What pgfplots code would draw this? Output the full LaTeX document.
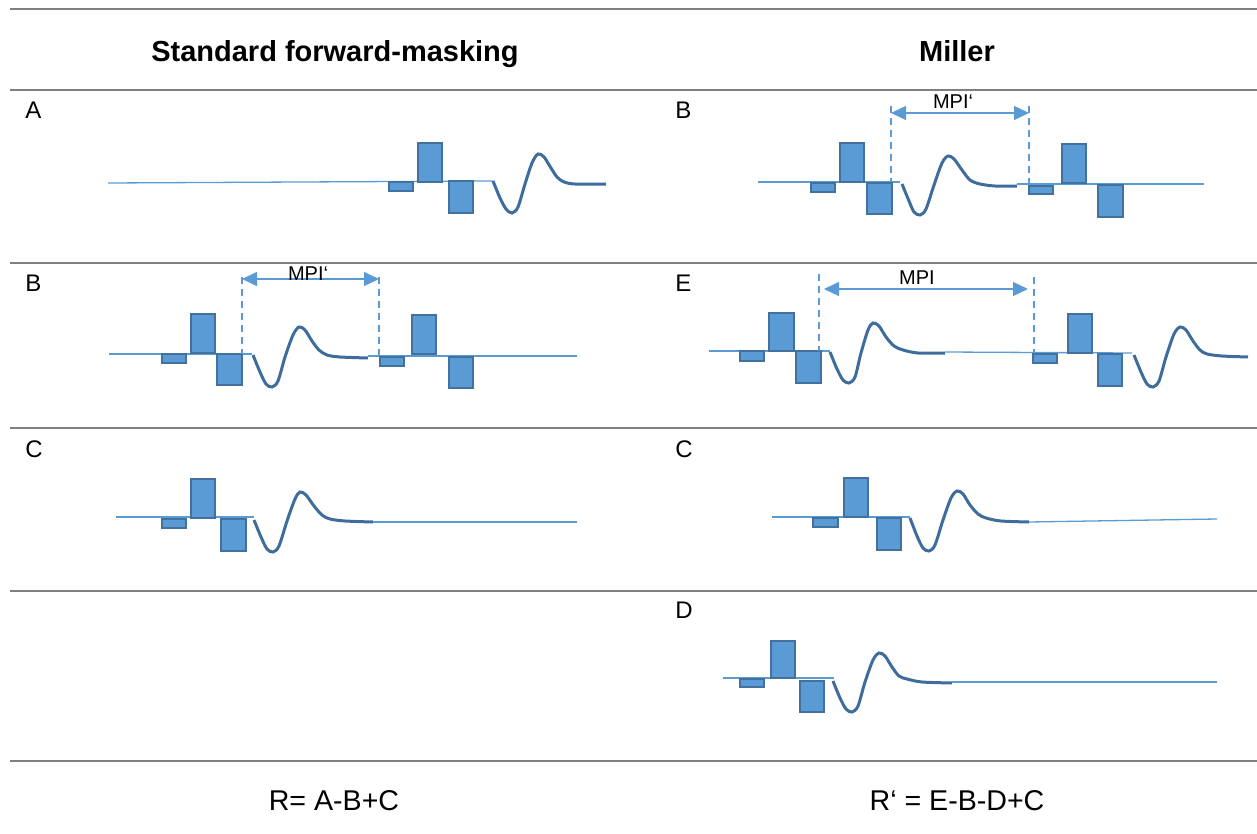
\documentclass[border=0pt]{standalone}
\usepackage{fontspec}
\setmainfont{Liberation Sans}
\usepackage{pgfplots}
\pgfplotsset{compat=1.18}
\usetikzlibrary{arrows.meta}
\definecolor{barfill}{RGB}{91,155,213}
\definecolor{bardraw}{RGB}{65,113,156}
\definecolor{wavecol}{RGB}{62,108,156}
\definecolor{rule}{RGB}{128,128,128}

% one rectangular pulse: x1, x2, y top, y bottom (picture pixels)
\newcommand{\pulse}[4]{\addplot[fill=barfill, draw=bardraw, line width=1.35pt]
  coordinates {(#1,#3) (#2,#3) (#2,#4) (#1,#4)} -- cycle;}

\begin{document}
\begin{tikzpicture}
\begin{axis}[name=ax, scale only axis, width=628.5pt, height=417pt,
    xmin=0, xmax=1257, ymin=0, ymax=834, y dir=reverse,
    axis lines=none, clip=false]

% table rules
\addplot[rule, line width=0.8pt] coordinates {(10,9) (1257,9)};
\addplot[rule, line width=0.8pt] coordinates {(10,90) (1257,90)};
\addplot[rule, line width=0.8pt] coordinates {(10,263) (1257,263)};
\addplot[rule, line width=0.8pt] coordinates {(10,428) (1257,428)};
\addplot[rule, line width=0.8pt] coordinates {(10,591) (1257,591)};
\addplot[rule, line width=0.8pt] coordinates {(10,761) (1257,761)};

% headers and footers
\node[font=\fontsize{14.5}{16}\selectfont\bfseries, anchor=base] at (axis cs:335,62) {Standard forward-masking};
\node[font=\fontsize{14.5}{16}\selectfont\bfseries, anchor=base] at (axis cs:957,62) {Miller};
\node[font=\fontsize{14.3}{16}\selectfont, anchor=base] at (axis cs:334,810) {R= A-B+C};
\node[font=\fontsize{14.3}{16}\selectfont, anchor=base] at (axis cs:957,810) {R‘ = E-B-D+C};

% row labels
\node[font=\fontsize{12}{14}\selectfont, anchor=base west, inner sep=0pt] at (axis cs:25,119) {A};
\node[font=\fontsize{12}{14}\selectfont, anchor=base west, inner sep=0pt] at (axis cs:675,119) {B};
\node[font=\fontsize{12}{14}\selectfont, anchor=base west, inner sep=0pt] at (axis cs:25,292) {B};
\node[font=\fontsize{12}{14}\selectfont, anchor=base west, inner sep=0pt] at (axis cs:675,292) {E};
\node[font=\fontsize{12}{14}\selectfont, anchor=base west, inner sep=0pt] at (axis cs:25,457) {C};
\node[font=\fontsize{12}{14}\selectfont, anchor=base west, inner sep=0pt] at (axis cs:675,457) {C};
\node[font=\fontsize{12}{14}\selectfont, anchor=base west, inner sep=0pt] at (axis cs:675,618) {D};

% ---------- baselines ----------
\addplot[barfill, line width=0.65pt] coordinates {(108,183) (493,181)};
\addplot[barfill, line width=0.65pt] coordinates {(109,354) (252,354)};
\addplot[barfill, line width=0.65pt] coordinates {(368,356) (577,356)};
\addplot[barfill, line width=0.65pt] coordinates {(116,517) (254,517)};
\addplot[barfill, line width=0.65pt] coordinates {(373,522) (577,522)};
\addplot[barfill, line width=0.65pt] coordinates {(758,182) (900,182)};
\addplot[barfill, line width=0.65pt] coordinates {(1017,184) (1204,184)};
\addplot[barfill, line width=0.65pt] coordinates {(709,351) (830,351)};
\addplot[barfill, line width=0.65pt] coordinates {(945,352) (1132,353)};
\addplot[barfill, line width=0.65pt] coordinates {(772,517) (910,517)};
\addplot[barfill, line width=0.65pt] coordinates {(1029,522) (1217,519)};
\addplot[barfill, line width=0.65pt] coordinates {(723,678) (834,678)};
\addplot[barfill, line width=0.65pt] coordinates {(952,682) (1217,682)};

% ---------- pulses ----------
% A (left)
\pulse{389}{413}{182}{191}
\pulse{418}{442}{143}{182}
\pulse{449}{473}{181}{213}
% B (left)
\pulse{162}{186}{354}{363}
\pulse{191}{215}{314}{353}
\pulse{217}{242}{354}{385}
\pulse{380}{404}{357}{366}
\pulse{412}{436}{315}{354}
\pulse{449}{473}{357}{388}
% C (left)
\pulse{162}{186}{519}{528}
\pulse{191}{215}{479}{518}
\pulse{221}{246}{519}{551}
% B (Miller)
\pulse{811}{835}{183}{192}
\pulse{840}{864}{143}{182}
\pulse{867}{892}{183}{214}
\pulse{1029}{1053}{186}{194}
\pulse{1062}{1086}{144}{183}
\pulse{1098}{1123}{185}{217}
% E (Miller)
\pulse{740}{764}{351}{361}
\pulse{769}{794}{313}{351}
\pulse{796}{821}{351}{383}
\pulse{1033}{1057}{354}{363}
\pulse{1068}{1092}{314}{353}
\pulse{1098}{1122}{354}{386}
% C (Miller)
\pulse{813}{838}{518}{527}
\pulse{844}{868}{478}{517}
\pulse{877}{901}{518}{550}
% D (Miller)
\pulse{740}{764}{679}{687}
\pulse{771}{795}{641}{678}
\pulse{800}{824}{681}{712}

% ---------- responses ----------
\addplot[wavecol, line width=1.5pt, smooth] coordinates {
 (493,181) (500,198) (506,209) (512,213) (518,207) (525,184) (532,163) (538,154)
 (544,157) (551,168) (557,177) (564,182) (575,184) (606,184)};
\addplot[wavecol, line width=1.5pt, smooth] coordinates {
 (253,355) (260,372) (266,384) (272,387) (278,381) (285,357) (293,335) (299,327)
 (305,330) (312,341) (319,350) (327,355) (340,357) (368,358)};
\addplot[wavecol, line width=1.5pt, smooth] coordinates {
 (254,520) (261,537) (267,549) (273,552) (279,546) (287,521) (295,499) (300,492)
 (306,495) (314,506) (322,515) (330,519) (345,521) (373,522)};
\addplot[wavecol, line width=1.5pt, smooth] coordinates {
 (902,184) (909,201) (914,212) (920,215) (926,209) (934,185) (942,163) (948,156)
 (954,159) (962,170) (970,180) (980,184) (995,186) (1017,186)};
\addplot[wavecol, line width=1.5pt, smooth] coordinates {
 (830,352) (837,369) (843,380) (849,383) (855,377) (861,353) (868,330) (873,323)
 (879,326) (886,337) (894,346) (903,350) (918,353) (945,353)};
\addplot[wavecol, line width=1.5pt, smooth] coordinates {
 (1134,355) (1141,372) (1147,384) (1153,387) (1159,381) (1166,357) (1174,334) (1180,327)
 (1186,330) (1193,341) (1200,350) (1207,354) (1222,356) (1248,357)};
\addplot[wavecol, line width=1.5pt, smooth] coordinates {
 (910,518) (917,536) (923,548) (929,551) (935,545) (943,520) (951,498) (957,491)
 (963,494) (970,505) (978,514) (986,518) (1001,521) (1029,522)};
\addplot[wavecol, line width=1.5pt, smooth] coordinates {
 (833,681) (840,698) (846,709) (852,712) (858,706) (865,682) (873,660) (879,653)
 (885,656) (892,667) (899,676) (907,679) (922,682) (952,683)};

% ---------- MPI markers ----------
\addplot[barfill, line width=0.9pt, dash pattern=on 3.5pt off 2.5pt] coordinates {(242,277) (242,354)};
\addplot[barfill, line width=0.9pt, dash pattern=on 3.5pt off 2.5pt] coordinates {(379,277) (379,356)};
\addplot[barfill, line width=0.65pt, {Triangle[length=7.5pt,width=7pt]}-{Triangle[length=7.5pt,width=7pt]}] coordinates {(242,279) (379,279)};
\node[font=\fontsize{10}{12}\selectfont, anchor=base] at (axis cs:308,280) {MPI‘};

\addplot[barfill, line width=0.9pt, dash pattern=on 3.5pt off 2.5pt] coordinates {(891,106) (891,182)};
\addplot[barfill, line width=0.9pt, dash pattern=on 3.5pt off 2.5pt] coordinates {(1029,106) (1029,184)};
\addplot[barfill, line width=0.65pt, {Triangle[length=7.5pt,width=7pt]}-{Triangle[length=7.5pt,width=7pt]}] coordinates {(891,113) (1029,113)};
\node[font=\fontsize{10}{12}\selectfont, anchor=base] at (axis cs:953,109) {MPI‘};

\addplot[barfill, line width=0.9pt, dash pattern=on 3.5pt off 2.5pt] coordinates {(819,274) (819,351)};
\addplot[barfill, line width=0.9pt, dash pattern=on 3.5pt off 2.5pt] coordinates {(1034,277) (1034,352)};
\addplot[barfill, line width=0.65pt, {Triangle[length=7.5pt,width=7pt]}-{Triangle[length=7.5pt,width=7pt]}] coordinates {(824,289) (1028,289)};
\node[font=\fontsize{10}{12}\selectfont, anchor=base] at (axis cs:917,285) {MPI};

\end{axis}
\pgfresetboundingbox
\path (ax.south west) rectangle (ax.north east);
\end{tikzpicture}
\end{document}
